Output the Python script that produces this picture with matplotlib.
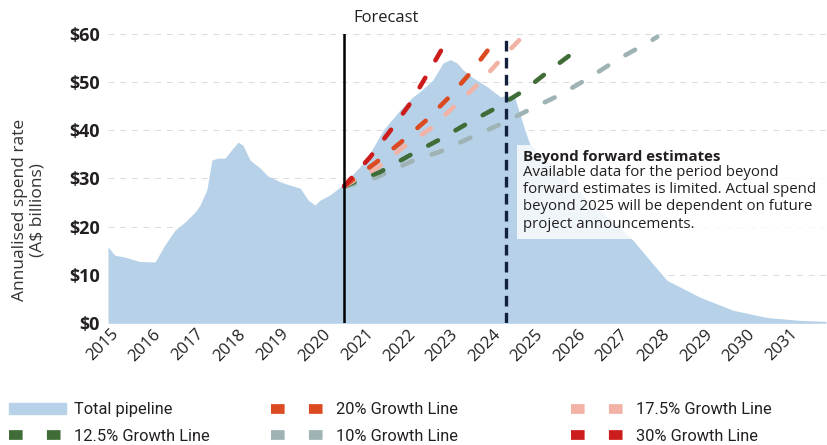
import matplotlib
matplotlib.use("Agg")
import matplotlib.pyplot as plt
from matplotlib.lines import Line2D
from matplotlib.patches import Patch, Rectangle

plt.rcParams["font.family"] = ["Open Sans", "DejaVu Sans"]

# ---- data -------------------------------------------------------------
years = list(range(2015, 2032))
y_ticks = [0, 10, 20, 30, 40, 50, 60]

# Total pipeline (annualised spend rate, A$ billions)
pipe_x = [2014.67, 2014.83, 2015.07, 2015.42, 2015.78, 2016.01, 2016.25, 2016.49,
          2016.72, 2016.84, 2017.00, 2017.12, 2017.26, 2017.43, 2017.62, 2017.74,
          2017.85, 2018.02, 2018.25, 2018.44, 2018.73, 2018.96, 2019.20, 2019.39,
          2019.55, 2019.67, 2019.91, 2020.14, 2020.24, 2020.38, 2020.61, 2020.85,
          2021.16, 2021.56, 2021.86, 2022.03, 2022.33, 2022.57, 2022.74, 2022.90,
          2023.04, 2023.28, 2023.61, 2023.92, 2024.08, 2024.27, 2024.50, 2024.62,
          2025.09, 2025.57, 2026.04, 2026.51, 2027.05, 2027.45, 2027.85, 2028.63,
          2029.41, 2030.21, 2030.99, 2031.60]
pipe_y = [15.8, 14.1, 13.7, 12.8, 12.7, 16.2, 19.3, 21.0,
          23.0, 24.5, 27.6, 33.8, 34.2, 34.2, 36.3, 37.5,
          36.9, 33.8, 32.2, 30.5, 29.3, 28.6, 28.0, 25.5,
          24.5, 25.5, 26.6, 28.2, 29.2, 30.3, 32.4, 35.3,
          40.0, 44.2, 46.9, 48.0, 50.4, 53.9, 54.6, 53.9,
          52.5, 50.8, 49.0, 46.9, 47.2, 46.5, 40.0, 37.0,
          33.0, 29.0, 25.0, 21.5, 17.2, 13.0, 8.9, 5.4,
          2.7, 1.2, 0.6, 0.4]

# Growth lines from the start of the forecast period
g30_x = [2020.24, 2020.85, 2021.32, 2021.77, 2022.19, 2022.67]
g30_y = [28.4, 34.4, 39.8, 45.2, 51.4, 58.7]

g20_x = [2020.24, 2020.99, 2021.58, 2022.17, 2022.71, 2023.23, 2023.70, 2023.84]
g20_y = [28.4, 33.3, 37.5, 42.0, 46.8, 52.0, 57.4, 58.7]

g175_x = [2020.24, 2021.04, 2021.65, 2022.29, 2022.88, 2023.42, 2023.96, 2024.46]
g175_y = [28.4, 32.3, 36.6, 40.4, 45.3, 49.7, 54.9, 59.5]

g125_x = [2020.24, 2021.08, 2021.79, 2022.50, 2023.11, 2023.80, 2024.48, 2025.09,
          2025.68, 2025.87]
g125_y = [28.4, 31.3, 34.8, 38.1, 41.2, 44.5, 48.2, 52.4, 56.3, 57.6]

g10_x = [2020.24, 2020.99, 2021.82, 2022.52, 2023.23, 2023.92, 2024.67, 2025.33,
         2026.01, 2026.70, 2027.38, 2027.62]
g10_y = [28.2, 30.2, 33.5, 35.6, 38.5, 41.2, 44.5, 47.3, 50.8, 54.7, 58.0, 59.3]

forecast_start = 2020.24
forward_estimates_end = 2024.06

# ---- styles -----------------------------------------------------------
c_pipe = "#b7d2e8"
c30 = "#cc1c1c"
c20 = "#dc4a22"
c175 = "#f2b2a6"
c125 = "#406d37"
c10 = "#9fb3b5"
txt = "#231f20"

fig = plt.figure(figsize=(8.27, 4.45), dpi=100)
ax = fig.add_axes([108 / 827, 1 - 323.3 / 445, (826 - 108) / 827, (323.3 - 33.5) / 445])

ax.set_xlim(2014.67, 2031.60)
ax.set_ylim(0, 60)

for v in y_ticks[1:]:
    ax.axhline(v, color="#dadada", lw=0.7, ls=(0, (6, 6)), zorder=0)

ax.fill_between(pipe_x, pipe_y, 0, color=c_pipe, lw=0, zorder=1)

dash = (0, (2.4, 4.4))
for gx, gy, c in [(g10_x, g10_y, c10), (g125_x, g125_y, c125),
                  (g175_x, g175_y, c175), (g20_x, g20_y, c20),
                  (g30_x, g30_y, c30)]:
    ax.plot(gx, gy, color=c, lw=3.3, ls=dash, dash_capstyle="round", zorder=3)

ax.axvline(forecast_start, color="black", lw=1.8, zorder=4)
ax.axvline(forward_estimates_end, color="#14213d", lw=2.4, ls=(0, (3.2, 1.9)), zorder=4)

ax.set_xticks(years)
ax.set_xticklabels([str(y) for y in years], rotation=45, ha="right",
                   fontsize=12, color=txt)
ax.set_yticks(y_ticks)
ax.set_yticklabels([f"${v}" for v in y_ticks], fontsize=13, fontweight="bold",
                   color=txt)
ax.tick_params(axis="both", length=0)
ax.tick_params(axis="y", pad=6)
ax.tick_params(axis="x", pad=2)
for s in ax.spines.values():
    s.set_visible(False)

fig.text(29 / 827, 1 - 210 / 445, "Annualised spend rate\n(A$ billions)",
         rotation=90, ha="center", va="center", fontsize=12.5, color="#333333",
         linespacing=1.1)

fig.text(353 / 827, 1 - 18 / 445, "Forecast", ha="left", va="center",
         fontsize=12, color=txt,
         bbox=dict(facecolor="white", edgecolor="none", pad=1.5))

# note box for the period beyond forward estimates
fig.patches.append(Rectangle((517 / 827, 1 - 239 / 445), 312 / 827, 94 / 445,
                             transform=fig.transFigure, facecolor="white",
                             alpha=0.78, edgecolor="none", zorder=5))
fig.text(523 / 827, 1 - 157 / 445, "Beyond forward estimates", ha="left",
         va="center", fontsize=10.8, fontweight="bold", color=txt, zorder=6)
fig.text(523 / 827, 1 - 165 / 445,
         "Available data for the period beyond\n"
         "forward estimates is limited. Actual spend\n"
         "beyond 2025 will be dependent on future\n"
         "project announcements.",
         ha="left", va="top", fontsize=10.8, color=txt, linespacing=1.2, zorder=6)

# ---- legend -----------------------------------------------------------
def growth_handle(c):
    return Line2D([], [], color=c, lw=7, ls=(0, (1.4, 2.5)), dash_capstyle="butt")

legend_font = dict(family=["Roboto", "DejaVu Sans"], size=11.8)
columns = [
    (9, [Patch(color=c_pipe), growth_handle(c125)],
     ["Total pipeline", "12.5% Growth Line"]),
    (271, [growth_handle(c20), growth_handle(c10)],
     ["20% Growth Line", "10% Growth Line"]),
    (571, [growth_handle(c175), growth_handle(c30)],
     ["17.5% Growth Line", "30% Growth Line"]),
]
for x0, handles, labels in columns:
    leg = fig.legend(handles, labels, loc="center left",
                     bbox_to_anchor=(x0 / 827, 1 - 423 / 445),
                     frameon=False, borderpad=0, borderaxespad=0,
                     handlelength=3.5, handleheight=0.6, handletextpad=0.45,
                     labelspacing=0.7, prop=legend_font)
    for t in leg.get_texts():
        t.set_color(txt)

fig.savefig("out.png", dpi=100)
